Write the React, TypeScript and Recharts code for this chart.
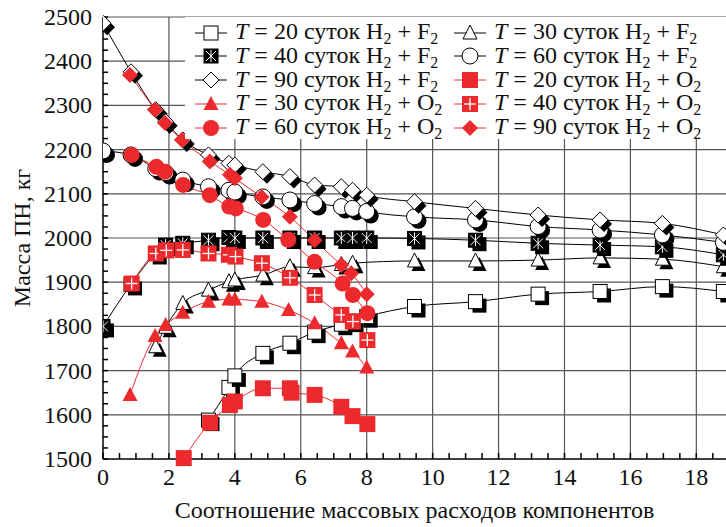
import { LineChart, Line, XAxis, YAxis, CartesianGrid, Legend } from 'recharts';

const RED = '#ec2a2e';
const FONT = '"Liberation Serif", "DejaVu Serif", serif';

// H2 + F2
const xF20 = [3.2, 3.82, 4.0, 4.85, 5.67, 6.42, 7.23, 7.57, 8.0, 9.45, 11.3, 13.2, 15.08, 16.97, 18.82];
const yF20 = [1588, 1662, 1688, 1739, 1762, 1787, 1805, 1812, 1822, 1845, 1856, 1873, 1879, 1890, 1879];

const xF30 = [1.6, 1.9, 2.42, 3.2, 3.82, 4.0, 4.85, 5.67, 6.42, 7.23, 7.57, 9.45, 11.3, 13.2, 15.08, 16.97, 18.82];
const yF30 = [1754, 1798, 1852, 1882, 1901, 1905, 1916, 1935, 1933, 1940, 1943, 1948, 1948, 1950, 1955, 1952, 1935];

const xF = [0, 0.85, 1.6, 1.9, 2.42, 3.2, 3.82, 4.0, 4.85, 5.67, 6.42, 7.23, 7.57, 8.0, 9.45, 11.3, 13.2, 15.08, 16.97, 18.82];
const yF40 = [1800, 1895, 1965, 1984, 1988, 1995, 2001, 2000, 2000, 2000, 2000, 2000, 2000, 2000, 1999, 1995, 1988, 1984, 1980, 1962];
const yF60 = [2197, 2188, 2157, 2148, 2131, 2116, 2108, 2104, 2093, 2086, 2078, 2071, 2067, 2060, 2048, 2041, 2026, 2018, 2007, 1990];
const yF90 = [2486, 2376, 2290, 2263, 2222, 2188, 2169, 2165, 2150, 2139, 2120, 2116, 2108, 2097, 2082, 2067, 2052, 2041, 2033, 2007];

// H2 + O2
const xO20 = [2.45, 3.25, 3.85, 4.0, 4.85, 5.67, 5.72, 6.42, 7.23, 7.57, 8.02];
const yO20 = [1502, 1582, 1622, 1630, 1660, 1660, 1650, 1645, 1618, 1597, 1579];

const xO30 = [0.82, 1.58, 1.9, 2.42, 3.2, 3.82, 4.0, 4.82, 5.63, 6.42, 7.23, 7.57, 8.0];
const yO30 = [1645, 1778, 1803, 1831, 1856, 1861, 1861, 1856, 1837, 1807, 1762, 1743, 1707];

const xO40 = [0.87, 1.6, 1.92, 2.42, 3.2, 3.82, 4.02, 4.82, 5.67, 6.42, 7.23, 7.58, 8.02];
const yO40 = [1897, 1965, 1972, 1973, 1965, 1962, 1958, 1943, 1910, 1871, 1826, 1811, 1769];

const xO60 = [0.87, 1.62, 1.88, 2.43, 3.24, 3.83, 4.03, 4.86, 5.62, 6.42, 7.27, 7.58, 8.02];
const yO60 = [2188, 2161, 2150, 2120, 2097, 2071, 2067, 2041, 1996, 1946, 1897, 1871, 1830];

const xO90 = [0.82, 1.58, 1.88, 2.4, 3.24, 3.85, 4.0, 4.81, 5.67, 6.42, 7.23, 7.53, 8.0];
const yO90 = [2369, 2290, 2260, 2222, 2173, 2143, 2135, 2093, 2048, 1995, 1939, 1920, 1873];

const xMajor = [2, 4, 6, 8, 10, 12, 14, 16, 18];
const yMajor = [1600, 1700, 1800, 1900, 2000, 2100, 2200, 2300, 2400, 2500];
const xTicks = Array.from({ length: 38 }, (_, i) => i * 0.5);
const yTicks = Array.from({ length: 41 }, (_, i) => 1500 + i * 25);

const X_MAX = 18.9;

type Kind = 'sq' | 'tri' | 'zh' | 'circ' | 'dia' | 'rsq' | 'rtri' | 'rplus' | 'rcirc' | 'rdia';

const pts = (xs: number[], ys: number[]) => xs.map((x, i) => ({ x, y: ys[i] }));

// legend order (row by row, two columns)
const series: { id: string; t: number; ox: string; kind: Kind; data: { x: number; y: number }[] }[] = [
  { id: 'f20', t: 20, ox: 'F', kind: 'sq', data: pts(xF20, yF20) },
  { id: 'f30', t: 30, ox: 'F', kind: 'tri', data: pts(xF30, yF30) },
  { id: 'f40', t: 40, ox: 'F', kind: 'zh', data: pts(xF, yF40) },
  { id: 'f60', t: 60, ox: 'F', kind: 'circ', data: pts(xF, yF60) },
  { id: 'f90', t: 90, ox: 'F', kind: 'dia', data: pts(xF, yF90) },
  { id: 'o20', t: 20, ox: 'O', kind: 'rsq', data: pts(xO20, yO20) },
  { id: 'o30', t: 30, ox: 'O', kind: 'rtri', data: pts(xO30, yO30) },
  { id: 'o40', t: 40, ox: 'O', kind: 'rplus', data: pts(xO40, yO40) },
  { id: 'o60', t: 60, ox: 'O', kind: 'rcirc', data: pts(xO60, yO60) },
  { id: 'o90', t: 90, ox: 'O', kind: 'rdia', data: pts(xO90, yO90) },
];

function geom(kind: Kind, cx: number, cy: number, fill: string, stroke: string) {
  const red = kind.startsWith('r');
  const sw = stroke === 'none' ? 0 : 1;
  if (kind === 'sq' || kind === 'zh' || kind === 'rsq' || kind === 'rplus') {
    const h = red ? 8 : 7;
    return <rect x={cx - h} y={cy - h} width={2 * h} height={2 * h} fill={fill} stroke={stroke} strokeWidth={sw} />;
  }
  if (kind === 'tri' || kind === 'rtri') {
    const w = red ? 7.5 : 7;
    const p = `${cx},${cy - 8} ${cx + w},${cy + 6} ${cx - w},${cy + 6}`;
    return <polygon points={p} fill={fill} stroke={stroke} strokeWidth={sw} />;
  }
  if (kind === 'circ' || kind === 'rcirc') {
    return <circle cx={cx} cy={cy} r={8} fill={fill} stroke={stroke} strokeWidth={sw} />;
  }
  const d = 8;
  const p = `${cx},${cy - d} ${cx + d},${cy} ${cx},${cy + d} ${cx - d},${cy}`;
  return <polygon points={p} fill={fill} stroke={stroke} strokeWidth={sw} />;
}

function Marker({ kind, cx, cy, shadow }: { kind: Kind; cx: number; cy: number; shadow?: boolean }) {
  if (cx == null || cy == null) return <g />;
  const red = kind.startsWith('r');
  if (red) {
    return (
      <g>
        {geom(kind, cx, cy, RED, 'none')}
        {kind === 'rplus' && (
          <g stroke="#fff" strokeWidth={1.3}>
            <line x1={cx - 6} y1={cy} x2={cx + 6} y2={cy} />
            <line x1={cx} y1={cy - 6} x2={cx} y2={cy + 6} />
          </g>
        )}
      </g>
    );
  }
  return (
    <g>
      {shadow && geom(kind, cx + 4, cy + 4, '#000', 'none')}
      {geom(kind, cx, cy, kind === 'zh' ? '#000' : '#fff', '#000')}
      {kind === 'zh' && (
        <g stroke="#fff" strokeWidth={1}>
          <line x1={cx} y1={cy - 6} x2={cx} y2={cy + 6} />
          <line x1={cx - 5} y1={cy - 5} x2={cx + 5} y2={cy + 5} />
          <line x1={cx + 5} y1={cy - 5} x2={cx - 5} y2={cy + 5} />
        </g>
      )}
    </g>
  );
}

const XTick = (p: any) => {
  const v = p.payload.value;
  if (Math.abs(v % 2) > 1e-6) return <g />;
  return (
    <text x={p.x} y={p.y + 26} textAnchor="middle" fontFamily={FONT} fontSize={24} fill="#111">
      {v}
    </text>
  );
};

const YTick = (p: any) => {
  const v = p.payload.value;
  if (v % 100 !== 0) return <g />;
  return (
    <text x={p.x} y={p.y + 8} textAnchor="end" fontFamily={FONT} fontSize={24} fill="#111">
      {v}
    </text>
  );
};

const subStyle = { fontSize: 16, verticalAlign: '-5px', lineHeight: '8px' };

const LegendBox = () => (
  <div
    style={{
      background: '#fff',
      width: 541,
      height: 122,
      paddingTop: 4,
      boxSizing: 'border-box',
      display: 'grid',
      gridTemplateColumns: '259px 282px',
      gridAutoRows: '23.8px',
      fontFamily: FONT,
      fontSize: 24,
      color: '#111',
    }}
  >
    {series.map((s) => {
      const red = s.kind.startsWith('r');
      return (
        <div key={s.id} style={{ display: 'flex', alignItems: 'center', whiteSpace: 'nowrap', lineHeight: '18px', height: 23 }}>
          <svg width={46} height={22} style={{ marginRight: 4, flex: 'none' }}>
            <line x1={10} y1={11} x2={42} y2={11} stroke={red ? RED : '#000'} strokeWidth={1} />
            <Marker kind={s.kind} cx={26} cy={11} />
          </svg>
          <span>
            <i>T</i> = {s.t} суток H<span style={subStyle}>2</span> + {s.ox}
            <span style={subStyle}>2</span>
          </span>
        </div>
      );
    })}
  </div>
);

export default function App() {
  return (
    <div style={{ position: 'absolute', left: 0, top: 0, width: 726, height: 527, background: '#fff', overflow: 'hidden' }}>
      <LineChart width={726} height={527} margin={{ top: 17, right: 0, bottom: 0, left: 0 }}>
        <CartesianGrid
          stroke="#555"
          strokeWidth={1.2}
          verticalCoordinatesGenerator={({ xAxis, offset }: any) =>
            xMajor.map((v) =>
              xAxis && typeof xAxis.scale === 'function' ? xAxis.scale(v) : offset.left + (v / X_MAX) * offset.width
            )
          }
          horizontalCoordinatesGenerator={({ yAxis, offset }: any) =>
            yMajor.map((v) =>
              yAxis && typeof yAxis.scale === 'function'
                ? yAxis.scale(v)
                : offset.top + ((2500 - v) / 1000) * offset.height
            )
          }
        />
        <XAxis
          dataKey="x"
          type="number"
          domain={[0, X_MAX]}
          ticks={xTicks}
          interval={0}
          height={68}
          tickSize={-6}
          tickMargin={6}
          tick={XTick}
          stroke="#000"
          strokeWidth={1.5}
          allowDataOverflow
          label={{
            content: ({ viewBox }: any) => (
              <text
                x={viewBox.x + viewBox.width / 2}
                y={viewBox.y + 59}
                textAnchor="middle"
                fontFamily={FONT}
                fontSize={24}
                fill="#111"
              >
                Соотношение массовых расходов компонентов
              </text>
            ),
          }}
        />
        <YAxis
          dataKey="y"
          type="number"
          domain={[1500, 2500]}
          ticks={yTicks}
          interval={0}
          width={103}
          tickSize={-5}
          tickMargin={16}
          tick={YTick}
          stroke="#000"
          strokeWidth={1.5}
          label={{
            content: ({ viewBox }: any) => {
              const cy = viewBox.y + viewBox.height / 2;
              return (
                <text
                  x={30}
                  y={cy}
                  transform={`rotate(-90, 30, ${cy})`}
                  textAnchor="middle"
                  fontFamily={FONT}
                  fontSize={24}
                  fill="#111"
                >
                  Масса ПН, кг
                </text>
              );
            },
          }}
        />
        <Legend
          layout="vertical"
          align="center"
          verticalAlign="middle"
          content={LegendBox}
          wrapperStyle={{ left: 185, top: 17, width: 541, height: 122 }}
        />
        {series
          .filter((s) => !s.kind.startsWith('r'))
          .concat(series.filter((s) => s.kind.startsWith('r')))
          .map((s) => (
            <Line
              key={s.id}
              data={s.data}
              dataKey="y"
              type="monotone"
              stroke={s.kind.startsWith('r') ? RED : '#000'}
              strokeWidth={1}
              isAnimationActive={false}
              legendType="none"
              dot={(p: any) => <Marker key={`${s.id}-${p.index}`} kind={s.kind} cx={p.cx} cy={p.cy} shadow />}
            />
          ))}
      </LineChart>
    </div>
  );
}
